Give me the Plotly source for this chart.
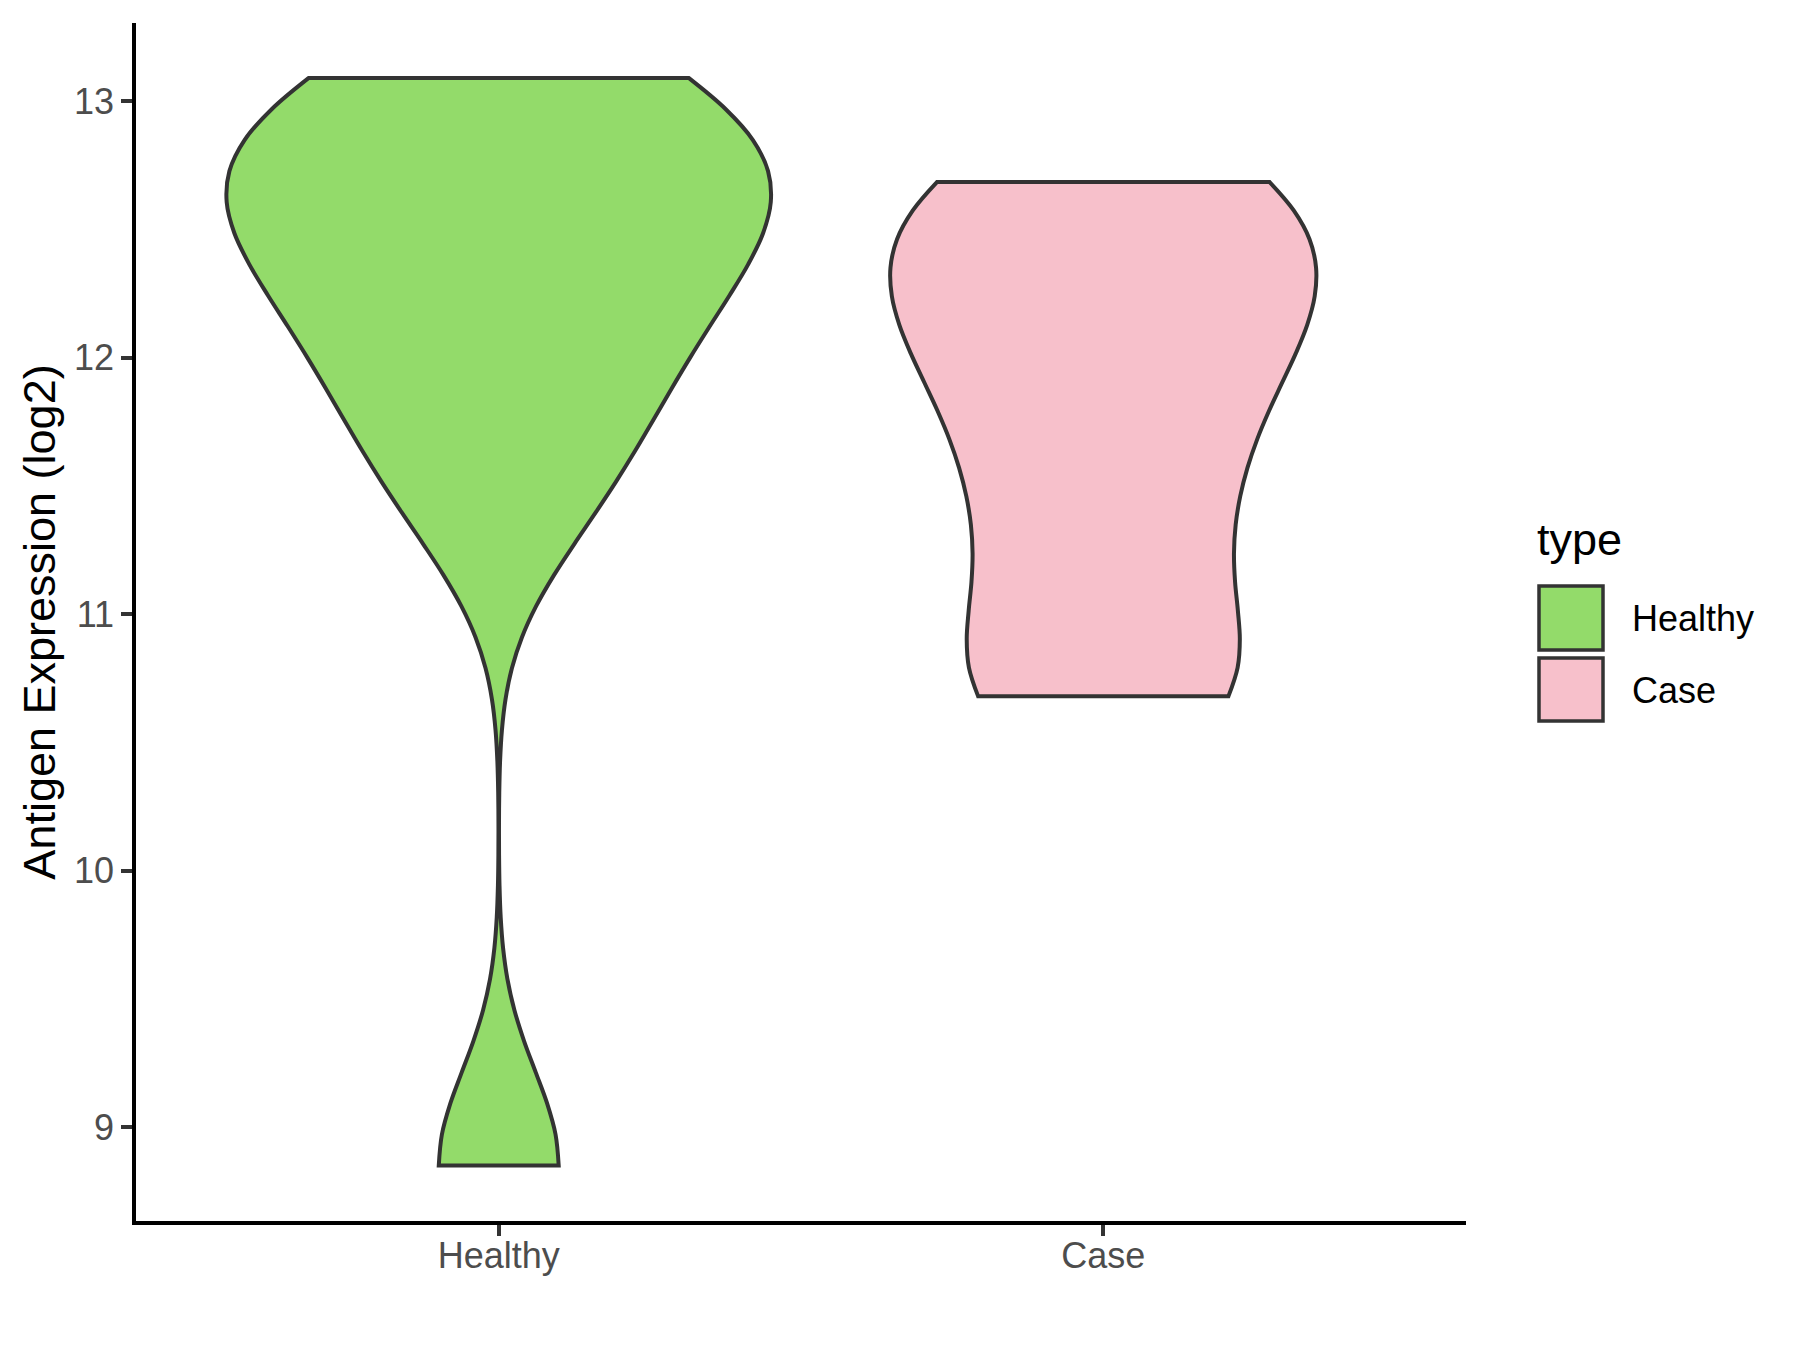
import plotly.graph_objects as go

# ---- data ----
categories = ["Healthy", "Case"]
healthy_values = [8.85, 11.45, 11.85, 12.15, 12.4, 12.6, 12.75, 12.9, 13.09]
case_values = [10.68, 10.76, 11.25, 11.6, 11.95, 12.15, 12.35, 12.6, 12.684]
bandwidths = [0.37, 0.34]
violin_widths = [0.9, 0.704]
fill_colors = ["#93DB6A", "#F7C0CB"]
y_ticks = [9, 10, 11, 12, 13]
y_title = "Antigen Expression (log2)"
legend_title = "type"

FONT = "Liberation Sans, Arial, sans-serif"
W, H = 1800, 1350
L, R, T, B = 136, 334, 23, 129
PW, PH = W - L - R, H - T - B


def px(x):
    return (x - L) / PW


def py(y):
    return (H - B - y) / PH


fig = go.Figure()
for cat, vals, bw, wd, col in zip(categories, [healthy_values, case_values],
                                  bandwidths, violin_widths, fill_colors):
    fig.add_trace(go.Violin(
        x=[cat] * len(vals), y=vals, name=cat,
        bandwidth=bw, spanmode="hard", width=wd, scalemode="width",
        fillcolor=col, opacity=1,
        line=dict(color="#333333", width=4),
        points=False, box_visible=False, meanline_visible=False,
        showlegend=False, hoverinfo="skip",
    ))

# manual legend (ggplot-style large keys)
shapes = []
annotations = [dict(text=legend_title, x=px(1535), y=py(539), xref="paper", yref="paper",
                    xanchor="left", yanchor="middle", showarrow=False,
                    font=dict(family=FONT, size=45, color="black"))]
key_rows = [(586, 650, 618), (658, 721, 690)]
for cat, col, (y0, y1, yc) in zip(categories, fill_colors, key_rows):
    shapes.append(dict(type="rect", xref="paper", yref="paper",
                       x0=px(1539), x1=px(1603), y0=py(y1), y1=py(y0),
                       fillcolor=col, line=dict(color="#333333", width=3.5)))
    annotations.append(dict(text=cat, x=px(1630), y=py(yc), xref="paper", yref="paper",
                            xanchor="left", yanchor="middle", showarrow=False,
                            font=dict(family=FONT, size=36, color="black")))

fig.update_layout(
    width=W, height=H, autosize=False,
    margin=dict(l=L, r=R, t=T, b=B, pad=0),
    paper_bgcolor="white", plot_bgcolor="white",
    violinmode="overlay",
    font=dict(family=FONT, color="black"),
    shapes=shapes, annotations=annotations,
    showlegend=False,
)
fig.update_xaxes(
    type="category", categoryorder="array", categoryarray=categories,
    range=[-0.6, 1.6], showgrid=False, zeroline=False,
    showline=True, linecolor="black", linewidth=3.5,
    ticks="outside", ticklen=11, tickwidth=3.5, tickcolor="#333333",
    tickfont=dict(family=FONT, size=36, color="#4D4D4D"),
    ticklabelstandoff=-11,
)
fig.update_yaxes(
    range=[8.634, 13.304], tickvals=y_ticks, showgrid=False, zeroline=False,
    showline=True, linecolor="black", linewidth=3.5,
    ticks="outside", ticklen=11, tickwidth=3.5, tickcolor="#333333",
    tickfont=dict(family=FONT, size=36, color="#4D4D4D"),
    title=dict(text=y_title, font=dict(family=FONT, size=45, color="black"), standoff=5),
)

fig.write_html("out.html", config={"displayModeBar": False},
               post_script="document.body.style.margin='0';document.body.style.overflow='hidden';")
